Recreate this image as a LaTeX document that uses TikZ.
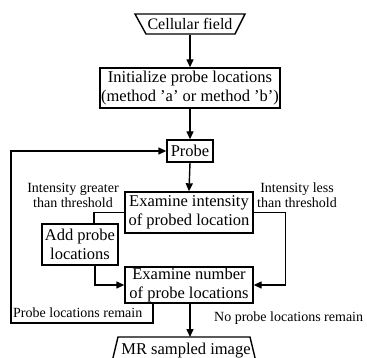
\documentclass[tikz,border=0pt]{standalone}
\usepackage{fontspec}
\setmainfont{Liberation Serif}
\usetikzlibrary{arrows.meta,calc}
\begin{document}
\begin{tikzpicture}[x=1pt,y=-1pt,
  box/.style={draw,line width=1.4pt,inner sep=0pt,align=center,font=\fontsize{16.5}{19}\selectfont},
  lbl/.style={inner sep=0pt,align=center,font=\fontsize{14}{15}\selectfont},
  arr/.style={line width=1.4pt,-{Triangle[length=8pt,width=7pt]}},
  ln/.style={line width=1.4pt}]
\useasboundingbox (0,0) rectangle (367,358);
\fill[white] (0,0) rectangle (367,358);
% trapezoids
\draw[line width=1.4pt] (135,14) -- (245,14) -- (235,34) -- (146,34) -- cycle;
\node[box,draw=none,minimum width=89pt,minimum height=20pt,font=\fontsize{16}{19}\selectfont] (cf) at (190,24) {Cellular field};
\node[box,minimum width=180pt,minimum height=40pt] (init) at (190,88) {Initialize probe locations\\(method 'a' or method 'b')};
\node[box,minimum width=46pt,minimum height=22pt] (probe) at (190,151) {Probe};
\node[box,minimum width=128pt,minimum height=41pt] (ei) at (189,212.5) {Examine intensity\\of probed location};
\node[box,minimum width=76pt,minimum height=41pt] (ap) at (80,244.5) {Add probe\\locations};
\node[box,minimum width=128pt,minimum height=36pt] (en) at (189,285) {Examine number\\of probe locations};
\draw[line width=1.4pt] (111,366) -- (118,337) -- (250,337) -- (257,366);
\node[box,draw=none,anchor=base] (mr) at (186,354) {MR sampled image};
\coordinate (mrtop) at (190,337);
\coordinate (lp) at (11,323);
% labels
\node[lbl] (lg) at (73,195) {Intensity greater\\than threshold};
\node[lbl] (ll) at (297,195) {Intensity less\\than threshold};
\node[lbl,anchor=west] (lr) at (13,313) {Probe locations remain};
\node[lbl,anchor=west] (ln) at (214,318) {No probe locations remain};
% connectors
\draw[arr] (cf.south) -- (init.north);
\draw[arr] (init.south) -- (probe.north);
\draw[arr] (probe.south) -- (ei.north);
\draw[ln] (ei.west) -| ([xshift=14pt]ap.north);
\draw[arr] ([xshift=15pt]ap.south) |- (en.west);
\draw[arr] (ei.east) -- ++(32,0) |- (en.east);
\draw[arr] ([xshift=-36pt]en.south) |- (lp) |- (probe.west);
\draw[arr] ([xshift=1pt]en.south) -- (mrtop);
\end{tikzpicture}
\end{document}
